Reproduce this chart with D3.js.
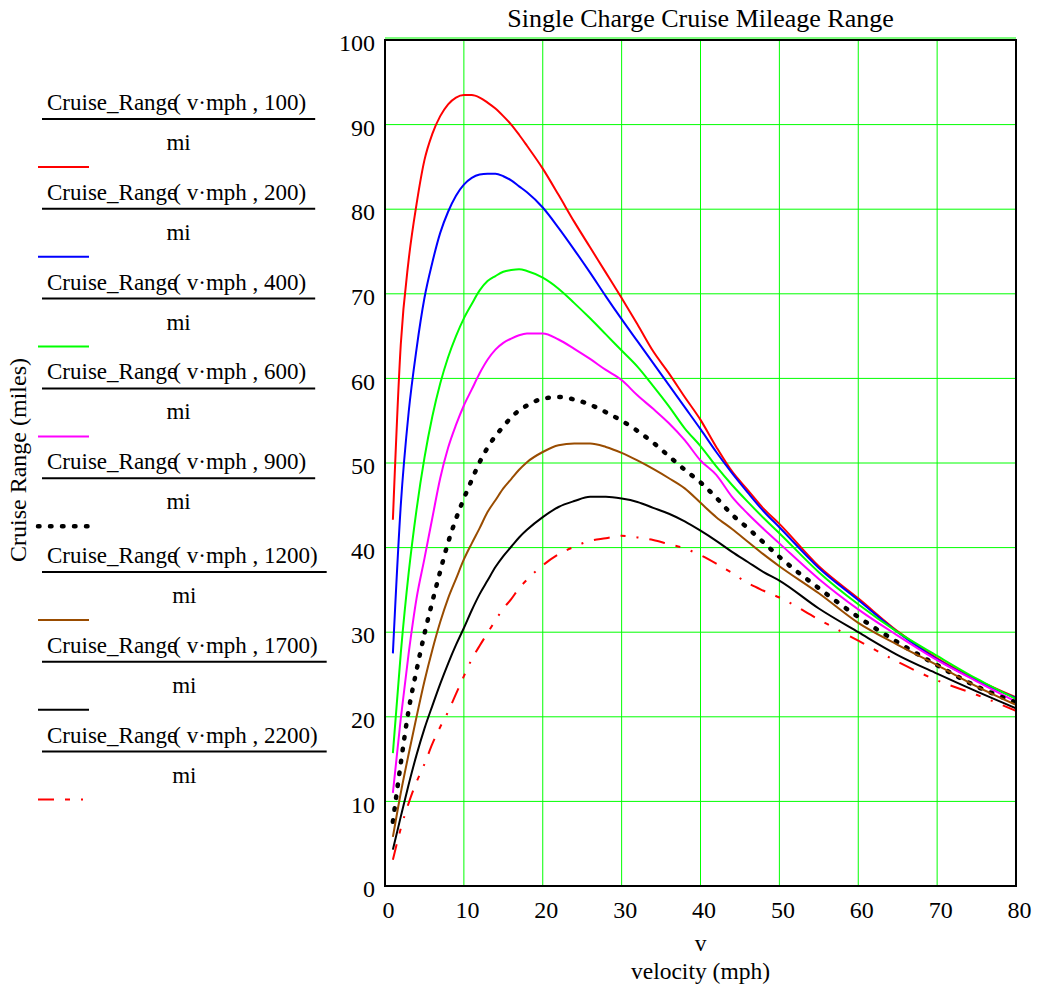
<!DOCTYPE html>
<html>
<head>
<meta charset="utf-8">
<script src="https://cdn.jsdelivr.net/npm/d3@7"></script>
<style>
  html, body { margin: 0; padding: 0; background: #fff; }
  svg text { font-family: "Liberation Serif", "Times New Roman", serif; fill: #000; }
</style>
</head>
<body>
<svg id="chart" width="1037" height="990"></svg>
<script>
// ---- data ----
const velocity = [1,2,3,4,5,6,7,8,9,10,11,12,13,14,15,16,17,18,20,22,24,26,28,30,32,34,36,38,40,42,44,46,48,50,55,60,65,70,75,80];

const range100  = [43.3,64,74,80.6,85.8,88.9,91,92.4,93.2,93.5,93.5,93.2,92.6,91.9,91,90,88.8,87.5,84.8,81.7,78.5,75.5,72.5,69.5,66.4,63.2,60.6,57.8,55.1,51.9,49,46.8,44.6,42.8,37.8,34,30.1,26.9,24.4,22.3];
const range200  = [27.5,45,56,63.5,69.5,73.7,77.2,79.7,81.6,82.9,83.7,84.1,84.2,84.2,83.9,83.4,82.7,82,80.2,77.8,75.2,72.5,69.7,67,64.4,61.8,59.2,56.6,54,51.3,48.8,46.5,44.3,42.4,37.6,33.8,30,26.8,24.3,22.2];
const range400  = [15.7,27.5,37,44.5,50.6,55.5,59.4,62.5,65,67.1,68.8,70.4,71.5,72.1,72.6,72.8,72.9,72.7,71.9,70.6,68.9,67.1,65.2,63.3,61.4,59.1,56.7,54.1,52,49.6,47.4,45.4,43.5,41.7,37.1,33.3,30,27.2,24.5,22.1];
const range600  = [11,19.8,27.5,34,38.7,43.5,48.2,51.8,54.5,56.8,58.7,60.6,62.2,63.4,64.2,64.7,65.1,65.3,65.3,64.6,63.5,62.3,61,59.8,58,56.4,54.7,52.7,50.3,48.6,46,44,42.2,40.5,36.3,32.7,29.6,26.7,24.2,21.8];
const range900  = [7.6,14.5,20.8,25.5,29.8,33.6,37.2,40.6,43.4,45.8,48,50.1,51.8,53.2,54.3,55.4,56.2,56.8,57.6,57.8,57.5,56.9,56,55,53.8,52.4,50.8,49.2,47.7,45.9,43.9,42.3,40.6,38.9,35.2,31.8,28.8,26.1,23.6,21.7];
const range1200 = [5.8,11,15.6,20,24.2,27.9,31.2,34,36.3,38.6,40.5,42.3,44.2,45.6,47,48.1,49.2,50.1,51.3,52.1,52.3,52.3,51.9,51.2,50.3,49.3,48.2,47,45.3,43.6,42.2,40.7,39.2,37.8,34.6,31.1,28.5,26.1,23.6,21.4];
const range1700 = [4.3,8.2,12,15.5,18.6,21.3,23.9,26.3,28.5,30.5,32.6,34.5,36.1,37.7,39,40.1,41.2,42.1,43.6,44.8,45.5,46,46,45.8,45.4,44.7,44,43.1,42,40.8,39.5,38.3,37.1,36.1,32.8,30,27.3,25.1,23,21];
const range2200 = [3.1,6.8,9.8,12.3,14.4,16.8,18.8,20.6,22.7,24.8,26.8,28.4,29.9,31.4,32.8,33.9,35.2,36.2,37.9,39.2,40.1,40.8,41.1,41.4,41.2,40.9,40.4,39.9,39.1,38.1,37,35.8,34.9,34.1,31.5,29,26.5,24.3,22.6,20.7];

const seriesParams = ["100","200","400","600","900","1200","1700","2200"];
const seriesValues = [range100, range200, range400, range600, range900, range1200, range1700, range2200];

const xTicks = [0,10,20,30,40,50,60,70,80];
const yTicks = [0,10,20,30,40,50,60,70,80,90,100];

const titleText = "Single Charge Cruise Mileage Range";
const yLabel = "Cruise Range (miles)";
const xLabel1 = "v";
const xLabel2 = "velocity (mph)";

// ---- styles ----
const styles = [
  {stroke:"#ff0000", width:2, dash:null, cap:"butt"},
  {stroke:"#0000ff", width:2, dash:null, cap:"butt"},
  {stroke:"#00ff00", width:2, dash:null, cap:"butt"},
  {stroke:"#ff00ff", width:2, dash:null, cap:"butt"},
  {stroke:"#000000", width:4.5, dash:"1.5 10.5", cap:"round"},
  {stroke:"#994c00", width:2, dash:null, cap:"butt"},
  {stroke:"#000000", width:2, dash:null, cap:"butt"},
  {stroke:"#ff0000", width:2, dash:"16 11 5 11 2 11", cap:"butt"}
];

const svg = d3.select("#chart");
const pLeft = 385, pRight = 1016, pTop = 40, pBottom = 886;

const x = d3.scaleLinear().domain([0,80]).range([pLeft,pRight]);
const y = d3.scaleLinear().domain([0,100]).range([pBottom,pTop]);

// grid
const grid = svg.append("g");
grid.selectAll("line.vx").data(xTicks.filter(d => d>0 && d<80)).enter().append("line")
  .attr("x1", d=>x(d)).attr("x2", d=>x(d)).attr("y1", pTop).attr("y2", pBottom)
  .attr("stroke","#00ff00").attr("stroke-width",1);
grid.selectAll("line.hy").data(yTicks.filter(d => d>0 && d<100)).enter().append("line")
  .attr("x1", pLeft).attr("x2", pRight).attr("y1", d=>y(d)).attr("y2", d=>y(d))
  .attr("stroke","#00ff00").attr("stroke-width",1);
grid.append("line").attr("x1",pLeft).attr("x2",pRight).attr("y1",y(100)-2).attr("y2",y(100)-2)
  .attr("stroke","#00ff00").attr("stroke-width",1);

// series
svg.append("clipPath").attr("id","clip").append("rect")
  .attr("x",pLeft).attr("y",pTop).attr("width",pRight-pLeft).attr("height",pBottom-pTop);
const line = d3.line().x((d,i)=>x(velocity[i])).y(d=>y(d)).curve(d3.curveMonotoneX);
const plot = svg.append("g").attr("clip-path","url(#clip)");
seriesValues.forEach((vals, i) => {
  const s = styles[i];
  plot.append("path").datum(vals).attr("d", line)
    .attr("fill","none").attr("stroke", s.stroke).attr("stroke-width", s.width)
    .attr("stroke-dasharray", s.dash).attr("stroke-linecap", s.cap)
    .attr("stroke-linejoin","round");
});

// frame
svg.append("rect").attr("x",pLeft).attr("y",pTop).attr("width",pRight-pLeft).attr("height",pBottom-pTop)
  .attr("fill","none").attr("stroke","#000").attr("stroke-width",2);

// axes labels (ticks)
const xAxis = d3.axisBottom(x).tickValues(xTicks).tickSize(0).tickFormat(d3.format("d"));
const gx = svg.append("g").attr("transform",`translate(3,${pBottom+12})`).call(xAxis);
gx.select(".domain").remove();
gx.selectAll("text").attr("font-size",24).attr("font-family","Liberation Serif").attr("fill","#000");

const yAxis = d3.axisLeft(y).tickValues(yTicks).tickSize(0).tickFormat(d3.format("d"));
const gy = svg.append("g").attr("transform",`translate(${pLeft-7},3)`).call(yAxis);
gy.select(".domain").remove();
gy.selectAll("text").attr("font-size",24).attr("font-family","Liberation Serif").attr("fill","#000");

// title & axis titles
svg.append("text").attr("x",(pLeft+pRight)/2).attr("y",27).attr("text-anchor","middle")
  .attr("font-size",26).text(titleText);
svg.append("text").attr("transform",`translate(26,460) rotate(-90)`).attr("text-anchor","middle")
  .attr("font-size",24).text(yLabel);
svg.append("text").attr("x",(pLeft+pRight)/2).attr("y",951).attr("text-anchor","middle")
  .attr("font-size",23.5).text(xLabel1);
svg.append("text").attr("x",(pLeft+pRight)/2).attr("y",979).attr("text-anchor","middle")
  .attr("font-size",23.5).text(xLabel2);

// legend
const legend = svg.append("g");
seriesParams.forEach((p, i) => {
  const ly = 119 + i*89.8 + (i>=5 ? 4 : 0);
  const t = legend.append("text").attr("x",47).attr("y",ly-9).attr("font-size",23);
  t.append("tspan").text("Cruise_Range");
  t.append("tspan").attr("dx",-4).text("( v\u00B7mph , " + p + ")");
  const w = t.node().getComputedTextLength();
  const x2 = 47 + w + 5;
  legend.append("line").attr("x1",42).attr("x2",x2).attr("y1",ly).attr("y2",ly)
    .attr("stroke","#000").attr("stroke-width",2);
  legend.append("text").attr("x",(42+x2)/2).attr("y",ly+31).attr("text-anchor","middle")
    .attr("font-size",23).text("mi");
  const s = styles[i];
  legend.append("line").attr("x1",38).attr("x2",89).attr("y1",ly+48).attr("y2",ly+48)
    .attr("stroke",s.stroke).attr("stroke-width",s.width)
    .attr("stroke-dasharray", s.dash).attr("stroke-linecap", s.cap);
});
</script>
</body>
</html>
